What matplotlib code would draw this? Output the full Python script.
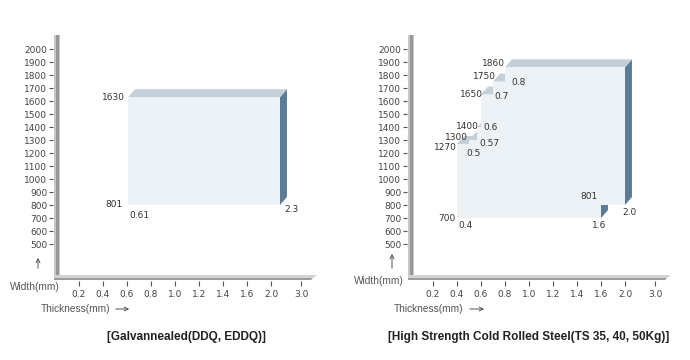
import numpy as np
import matplotlib.pyplot as plt
from matplotlib.patches import Polygon

# ---------------- data ----------------
thickness_ticks = [0.2, 0.4, 0.6, 0.8, 1.0, 1.2, 1.4, 1.6, 2.0, 3.0]
tick_slots = [0, 1, 2, 3, 4, 5, 6, 7, 8, 9.25]   # uneven axis: 2.0 -> 3.0 is a wider step
width_ticks = list(range(500, 2001, 100))

# Galvannealed (DDQ, EDDQ)
ga_top_edges = [0.61, 2.3]
ga_tops = [1630]
ga_bottom_edges = [0.61, 2.3]
ga_bottoms = [801]

# High Strength Cold Rolled Steel
hs_top_edges = [0.4, 0.5, 0.57, 0.6, 0.7, 0.8, 2.0]
hs_tops = [1270, 1300, 1400, 1650, 1750, 1860]
hs_bottom_edges = [0.4, 1.6, 2.0]
hs_bottoms = [700, 801]

titles = ["[Galvannealed(DDQ, EDDQ)]", "[High Strength Cold Rolled Steel(TS 35, 40, 50Kg)]"]

# ---------------- style ----------------
plt.rcParams["font.family"] = "DejaVu Sans"
FW, FH = 690, 360
AX_W, AX_H = 263, 240
FRONT = "#edf2f7"
TOP = "#c3cfd9"
SIDE = "#5c7c95"
DX, DY = 0.29, 61   # depth of the fake 3d block, data units


def pos(t):
    return np.interp(t, thickness_ticks, tick_slots)


def px_axes(fig, left, top):
    return fig.add_axes([left / FW, 1 - (top + AX_H) / FH, AX_W / FW, AX_H / FH])


def setup_axes(ax):
    ax.set_xlim(-25 / 24, -25 / 24 + AX_W / 24)
    ax.set_ylim(262, 2108)
    ax.set_xticks(tick_slots)
    ax.set_xticklabels([f"{t:.1f}" for t in thickness_ticks])
    ax.set_yticks(width_ticks)
    for s in ["top", "right", "left", "bottom"]:
        ax.spines[s].set_visible(False)
    ax.spines["bottom"].set_position(("outward", 4.5))
    ax.spines["left"].set_position(("outward", 0.7))
    ax.tick_params(axis="x", length=3.6, width=0.8, color="#555555", pad=2.5,
                   labelsize=6.5, labelcolor="#444444")
    ax.tick_params(axis="y", length=3, width=0.8, color="#555555", pad=1.2,
                   labelsize=6.5, labelcolor="#444444")
    ax.patch.set_alpha(0)

    fx, fy = 1 / AX_W, 1 / AX_H
    # vertical gray bar
    ax.add_patch(Polygon([(0, -5 * fy), (6 * fx, -5 * fy), (6 * fx, 1), (0, 1)],
                         transform=ax.transAxes, clip_on=False, color="#c8c8c8", lw=0))
    ax.add_patch(Polygon([(2 * fx, 0), (4.5 * fx, 0), (4.5 * fx, 1), (2 * fx, 1)],
                         transform=ax.transAxes, clip_on=False, color="#989898", lw=0))
    # floor bar
    ax.add_patch(Polygon([(0, 0), (1, 0), (1 - 4 * fx, -3 * fy), (0, -3 * fy)],
                         transform=ax.transAxes, clip_on=False, color="#d2d2d2", lw=0))
    ax.add_patch(Polygon([(0, -3 * fy), (1 - 4 * fx, -3 * fy), (1 - 6 * fx, -5 * fy), (0, -5 * fy)],
                         transform=ax.transAxes, clip_on=False, color="#9c9c9c", lw=0))


def draw_block(ax, top_edges, tops, bottom_edges, bottoms):
    xt = pos(top_edges)
    xb = pos(bottom_edges)
    # side faces
    xr = xt[-1]
    ax.add_patch(Polygon([(xr, bottoms[-1]), (xr, tops[-1]), (xr + DX, tops[-1] + DY),
                          (xr + DX, bottoms[-1] + DY)], color=SIDE, lw=0))
    for i in range(len(bottoms) - 1):
        if bottoms[i + 1] > bottoms[i]:
            x = xb[i + 1]
            ax.add_patch(Polygon([(x, bottoms[i]), (x, bottoms[i + 1]), (x + DX, bottoms[i + 1] + DY),
                                  (x + DX, bottoms[i] + DY)], color=SIDE, lw=0))
    # top faces
    for i in range(len(tops)):
        ax.add_patch(Polygon([(xt[i], tops[i]), (xt[i + 1], tops[i]), (xt[i + 1] + DX, tops[i] + DY),
                              (xt[i] + DX, tops[i] + DY)], color=TOP, lw=0))
    # front face
    verts = []
    for i in range(len(bottoms)):
        verts += [(xb[i], bottoms[i]), (xb[i + 1], bottoms[i])]
    for i in reversed(range(len(tops))):
        verts += [(xt[i + 1], tops[i]), (xt[i], tops[i])]
    ax.add_patch(Polygon(verts, color=FRONT, lw=0))


def label(ax, text, t, off, y, ha):
    ax.text(pos(t) + off, y, text, ha=ha, va="center", fontsize=6.5, color="#333333", zorder=5)


fig = plt.figure(figsize=(FW / 100, FH / 100), dpi=100)

# ---------------- left chart ----------------
ax1 = px_axes(fig, 54, 35)
setup_axes(ax1)
draw_block(ax1, ga_top_edges, ga_tops, ga_bottom_edges, ga_bottoms)
label(ax1, str(ga_tops[0]), ga_top_edges[0], -0.12, ga_tops[0], "right")
label(ax1, str(ga_bottoms[0]), ga_bottom_edges[0], -0.25, ga_bottoms[0], "right")
label(ax1, str(ga_top_edges[0]), ga_top_edges[0], 0.05, ga_bottoms[0] - 78, "left")
label(ax1, str(ga_top_edges[-1]), ga_top_edges[-1], 0.2, ga_bottoms[0] - 32, "left")

# ---------------- right chart ----------------
ax2 = px_axes(fig, 408, 35)
setup_axes(ax2)
draw_block(ax2, hs_top_edges, hs_tops, hs_bottom_edges, hs_bottoms)
label(ax2, "1860", 0.8, -0.02, 1890, "right")
label(ax2, "1750", 0.7, 0.12, 1790, "right")
label(ax2, "0.8", 0.8, 0.25, 1745, "left")
label(ax2, "1650", 0.6, 0.08, 1650, "right")
label(ax2, "0.7", 0.7, 0.05, 1634, "left")
label(ax2, "1400", 0.6, -0.1, 1405, "right")
label(ax2, "0.6", 0.6, 0.1, 1400, "left")
label(ax2, "1300", 0.5, -0.05, 1318, "right")
label(ax2, "0.57", 0.57, 0.1, 1275, "left")
label(ax2, "1270", 0.4, 0.0, 1240, "right")
label(ax2, "0.5", 0.5, -0.12, 1200, "left")
label(ax2, "700", 0.4, -0.05, 700, "right")
label(ax2, "0.4", 0.4, 0.05, 640, "left")
label(ax2, "801", 1.6, -0.15, 865, "right")
label(ax2, "1.6", 1.6, -0.08, 645, "center")
label(ax2, "2.0", 2.0, -0.1, 745, "left")

# ---------------- axis captions ----------------
lab = dict(ha="center", va="center", fontsize=7.3, family="Liberation Sans", color="#555555")
for wx, wy, ax_x, ay0, ay1, tx, arx0, arx1, title_x, title in [
        (35, 287, 38, 271, 255, 76, 113, 132, 186, titles[0]),
        (379, 281, 392, 271, 251, 429, 467, 487, 529, titles[1])]:
    fig.text(wx / FW, 1 - wy / FH, "Width(mm)", **lab)
    fig.text(tx / FW, 1 - 309 / FH, "Thickness(mm)", **lab)
    ax1.annotate("", xy=(ax_x, FH - ay1), xytext=(ax_x, FH - ay0), xycoords="figure pixels",
                 textcoords="figure pixels",
                 arrowprops=dict(arrowstyle="->", lw=0.7, color="#555555", mutation_scale=7))
    ax1.annotate("", xy=(arx1, FH - 309), xytext=(arx0, FH - 309), xycoords="figure pixels",
                 textcoords="figure pixels",
                 arrowprops=dict(arrowstyle="->", lw=0.7, color="#555555", mutation_scale=7))
    fig.text(title_x / FW, 1 - 337 / FH, title, ha="center", va="center", fontsize=8.5,
             fontweight="bold", family="Liberation Sans", color="#222222")

fig.savefig("out.png", dpi=100)
